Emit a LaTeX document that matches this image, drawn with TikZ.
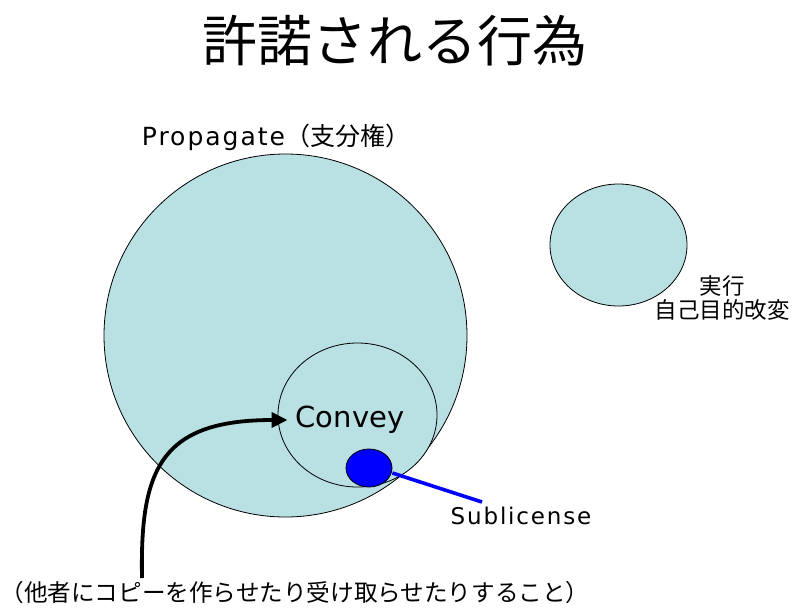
\documentclass[tikz,border=0pt]{standalone}
\usepackage{fontspec}
\setmainfont{DejaVu Sans}
\newfontfamily\jp{Noto Sans CJK JP}
\newfontfamily\latw{DejaVu Sans}[LetterSpace=8]
\usetikzlibrary{arrows.meta,shapes.geometric}
\definecolor{setfill}{HTML}{B9E0E3}
\definecolor{subblue}{HTML}{0000FF}
\begin{document}
\begin{tikzpicture}[x=1pt,y=-1pt,
  setcircle/.style={draw=black,line width=0.8pt,fill=setfill},
  lbl/.style={inner sep=0pt,text=black}]
\useasboundingbox (0,0) rectangle (794,611);
% sets
\draw[setcircle] (285.5,335.5) circle [radius=181.5];
\draw[setcircle] (618.5,245) ellipse [x radius=68.5, y radius=61];
\draw[setcircle] (357.5,415) ellipse [x radius=79.5, y radius=72];
\node[draw=black,line width=0.8pt,fill=subblue,ellipse,minimum width=46pt,minimum height=38pt,inner sep=0pt] (sub) at (369,468) {};
% labels
\node[lbl] (title) at (395,41) {\jp\fontsize{55}{60}\selectfont 許諾される行為};
\node[lbl] (prop) at (276,137) {\fontsize{25}{30}\selectfont\latw Propagate\jp（支分権）};
\node[lbl,inner xsep=8pt] (convey) at (350,420) {\fontsize{29}{34}\selectfont Convey};
\node[lbl] (sublbl) at (521,516) {\fontsize{23}{28}\selectfont\latw Sublicense};
\node[lbl,align=center,font=\jp\fontsize{22.5}{24}\selectfont] (exec) at (722,298) {実行\\自己目的改変};
\node[lbl] (note) at (295,593) {\jp\fontsize{23.6}{28}\selectfont （他者にコピーを作らせたり受け取らせたりすること）};
% connectors
\coordinate (subend) at (482,502);
\draw[subblue,line width=3.6pt] (sub.east) ++(0,5) -- (subend);
\coordinate (astart) at (142,578);
\draw[line width=3.8pt,-{Triangle[length=16pt,width=15pt]}] (astart) .. controls (140,470) and (160,420) .. (convey.west);
\end{tikzpicture}
\end{document}
